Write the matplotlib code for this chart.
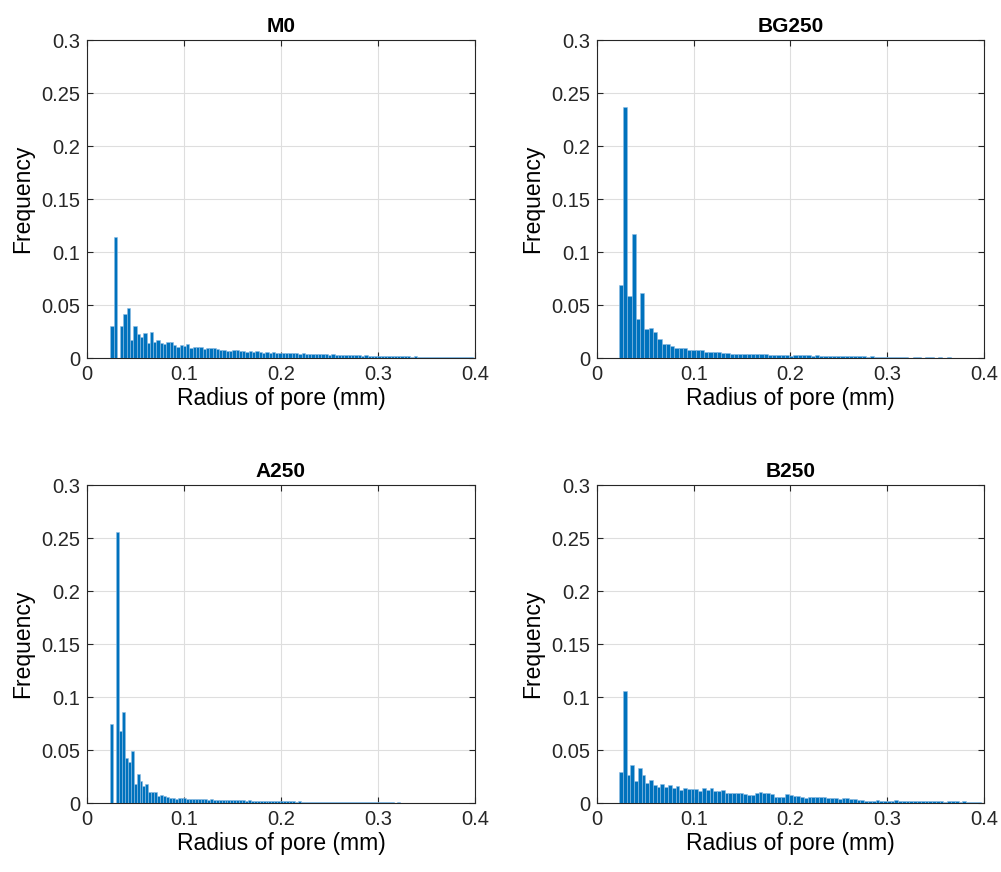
import matplotlib.pyplot as plt

plt.rcParams['font.family'] = ['Liberation Sans', 'DejaVu Sans']

# 直方图数据（每个面板：起始半径、箱宽、各箱频率）
titles = ['M0', 'BG250', 'A250', 'B250']

m0_start, m0_width = 0.024, 0.0034
m0_freq = [0.030, 0.1145, 0, 0.0305, 0.042, 0.047, 0.017, 0.0305, 0.023, 0.0195,
           0.024, 0.0145, 0.0245, 0.0154, 0.017, 0.0145, 0.0132, 0.0148, 0.0148, 0.0123,
           0.0107, 0.0126, 0.0113, 0.0132, 0.0097, 0.010,
           0.0105, 0.0100, 0.0088, 0.0094, 0.0091, 0.0094, 0.0082, 0.0079, 0.0079, 0.0063,
           0.0069, 0.0072, 0.0072, 0.0069, 0.0069, 0.0060, 0.0066, 0.0053, 0.0066, 0.0053,
           0.0047, 0.0057, 0.0050, 0.0054, 0.0048, 0.0046, 0.0052, 0.0044, 0.0050, 0.0046,
           0.0045, 0.0042, 0.0044, 0.0040, 0.0038, 0.0041, 0.0036, 0.0034, 0.0037, 0.0035,
           0.0032, 0.0034, 0.0029, 0.0031, 0.0030, 0.0027, 0.0029, 0.0026, 0.0024, 0.0027,
           0.0023, 0.0025, 0.0022, 0.0021, 0.0023, 0.0020, 0.0021, 0.0019, 0.0020, 0.0018,
           0.0019, 0.0017, 0.0016, 0.0018, 0.0015, 0.0014, 0.0016, 0.0013, 0.0014, 0.0012,
           0.0013, 0.0011, 0.0012, 0.0010, 0.0011, 0.0009, 0.0010, 0.0009, 0.0008, 0.0009,
           0.0007, 0.0008, 0.0007, 0.0006]

bg_start, bg_width = 0.0227, 0.0044
bg_freq = [0.069, 0.237, 0.0585, 0.117, 0.0365, 0.061, 0.0277, 0.028, 0.0245, 0.018,
           0.0132, 0.0132, 0.0113, 0.0094, 0.0094, 0.0094, 0.0075, 0.0075, 0.0075, 0.0075,
           0.006,
           0.006, 0.0055, 0.0055, 0.0047, 0.005, 0.0041, 0.0041, 0.0041, 0.0035, 0.0041,
           0.0035, 0.0035, 0.0035, 0.0035, 0.0028, 0.0028, 0.0028, 0.0025, 0.0025, 0.0022,
           0.0025,
           0.0028, 0.0025, 0.0025, 0.0022, 0.0025, 0.0022, 0.0022, 0.0019, 0.0022, 0.0019,
           0.0019, 0.0016, 0.0019, 0.0016, 0.0016, 0.0016, 0.0013, 0.0016, 0.0013, 0.0013,
           0.0013,
           0.0012, 0.0010, 0.0012, 0.0009, 0.0010, 0, 0.0009, 0.0008, 0, 0.0008,
           0.0007, 0, 0.0006, 0, 0.0006, 0.0005, 0, 0.0005, 0, 0.0004,
           0, 0, 0]

a_start, a_width = 0.024, 0.00302
a_freq = [0.0745, 0, 0.256, 0.068, 0.086, 0.0425, 0.039, 0.049, 0.0175, 0.027,
          0.021, 0.016, 0.018, 0.010, 0.010, 0.010, 0.0069, 0.0072, 0.0066, 0.0057,
          0.0047, 0.0047, 0.0038, 0.005, 0.005, 0.005, 0.0041, 0.0041,
          0.0041, 0.0038, 0.0035, 0.0038, 0.0035, 0.0032, 0.0035, 0.0032, 0.0030, 0.0032,
          0.0028, 0.0030, 0.0028, 0.0025, 0.0028, 0.0025, 0.0024, 0.0025, 0.0022, 0.0024,
          0.0022, 0.0020, 0.0022, 0.0020, 0.0019, 0.0020, 0.0018, 0.0019, 0.0017, 0.0018,
          0.0016, 0.0017, 0.0016,
          0.0015, 0.0016, 0.0014, 0.0015, 0.0014, 0.0013, 0.0014, 0.0012, 0.0013, 0.0012,
          0.0011, 0.0012, 0.0011, 0.0010, 0.0011, 0.0010, 0.0009, 0.0010, 0.0009, 0.0009,
          0.0008, 0.0009, 0.0008, 0.0008, 0.0007, 0.0008, 0.0007, 0.0007, 0.0006, 0.0007,
          0.0006, 0.0006, 0.0005,
          0.0006, 0.0005, 0.0005, 0.0004, 0.0005, 0.0004, 0.0004, 0.0003, 0.0004, 0.0003,
          0.0003, 0.0003, 0.0002, 0.0003, 0.0002, 0.0002, 0.0002, 0.0002, 0.0001, 0.0002,
          0.0001, 0.0001, 0.0001, 0.0001, 0.0001, 0, 0.0001, 0, 0, 0]

b_start, b_width = 0.0227, 0.0039
b_freq = [0.029, 0.106, 0.026, 0.0355, 0.0204, 0.0327, 0.0264, 0.0186, 0.0214, 0.0173,
          0.015, 0.018, 0.0148, 0.017, 0.0145, 0.0157, 0.0126, 0.014, 0.0132, 0.0132,
          0.0132, 0.0116, 0.0138,
          0.0123, 0.0138, 0.0113, 0.0113, 0.0123, 0.0097, 0.0097, 0.0097, 0.009, 0.009,
          0.0085, 0.0075, 0.0075, 0.009, 0.010, 0.009, 0.009, 0.0085, 0.006, 0.006,
          0.006, 0.0082, 0.0072, 0.0066,
          0.0066, 0.006, 0.0044, 0.006, 0.006, 0.006, 0.006, 0.0053, 0.0044, 0.005,
          0.0044, 0.0038, 0.0044, 0.005, 0.0038, 0.0038, 0.0028, 0.0028, 0.0022, 0.0022,
          0.0019, 0.0028, 0.0022, 0.0019, 0.0019, 0.0022,
          0.0025, 0.0022, 0.0019, 0.0022, 0.0019, 0.0016, 0.0019, 0.0016, 0.0022, 0.0019,
          0.0016, 0.0019, 0.0016, 0.0013, 0.0016, 0.0019, 0.0016, 0.0013, 0.0016, 0.0013,
          0.0013, 0.0010, 0.0010]

panels = [(m0_start, m0_width, m0_freq),
          (bg_start, bg_width, bg_freq),
          (a_start, a_width, a_freq),
          (b_start, b_width, b_freq)]

x_ticks = [0, 0.1, 0.2, 0.3, 0.4]
x_labels = ['0', '0.1', '0.2', '0.3', '0.4']
y_ticks = [0, 0.05, 0.1, 0.15, 0.2, 0.25, 0.3]
y_labels = ['0', '0.05', '0.1', '0.15', '0.2', '0.25', '0.3']

fig = plt.figure(figsize=(10.01, 8.72), dpi=100)

# 各子图位置（按参考图像素换算）
positions = [[0.0869, 0.5894, 0.3876, 0.3647],
             [0.5964, 0.5894, 0.3866, 0.3647],
             [0.0869, 0.0791, 0.3876, 0.3647],
             [0.5964, 0.0791, 0.3866, 0.3647]]

for pos, title, (start, width, freq) in zip(positions, titles, panels):
    ax = fig.add_axes(pos)
    left_edges = [start + i * width for i in range(len(freq))]
    ax.bar(left_edges, freq, width=width, align='edge', color='#0072BD',
           edgecolor='#8fbde3', linewidth=0.4, zorder=3)
    ax.set_xlim(0, 0.4)
    ax.set_ylim(0, 0.3)
    ax.set_xticks(x_ticks)
    ax.set_xticklabels(x_labels)
    ax.set_yticks(y_ticks)
    ax.set_yticklabels(y_labels)
    ax.grid(True, color='#dedede', linewidth=0.8, zorder=0)
    ax.tick_params(direction='in', length=4, width=0.8, colors='#262626',
                   labelsize=14.5, top=True, right=True, pad=5)
    for s in ax.spines.values():
        s.set_color('#262626')
        s.set_linewidth(0.8)
    ax.set_title(title, fontsize=15, fontweight='bold', pad=6)
    ax.set_xlabel('Radius of pore (mm)', fontsize=16.5, labelpad=2)
    ax.set_ylabel('Frequency', fontsize=16.5, labelpad=5)

plt.savefig('out.png', dpi=100)
